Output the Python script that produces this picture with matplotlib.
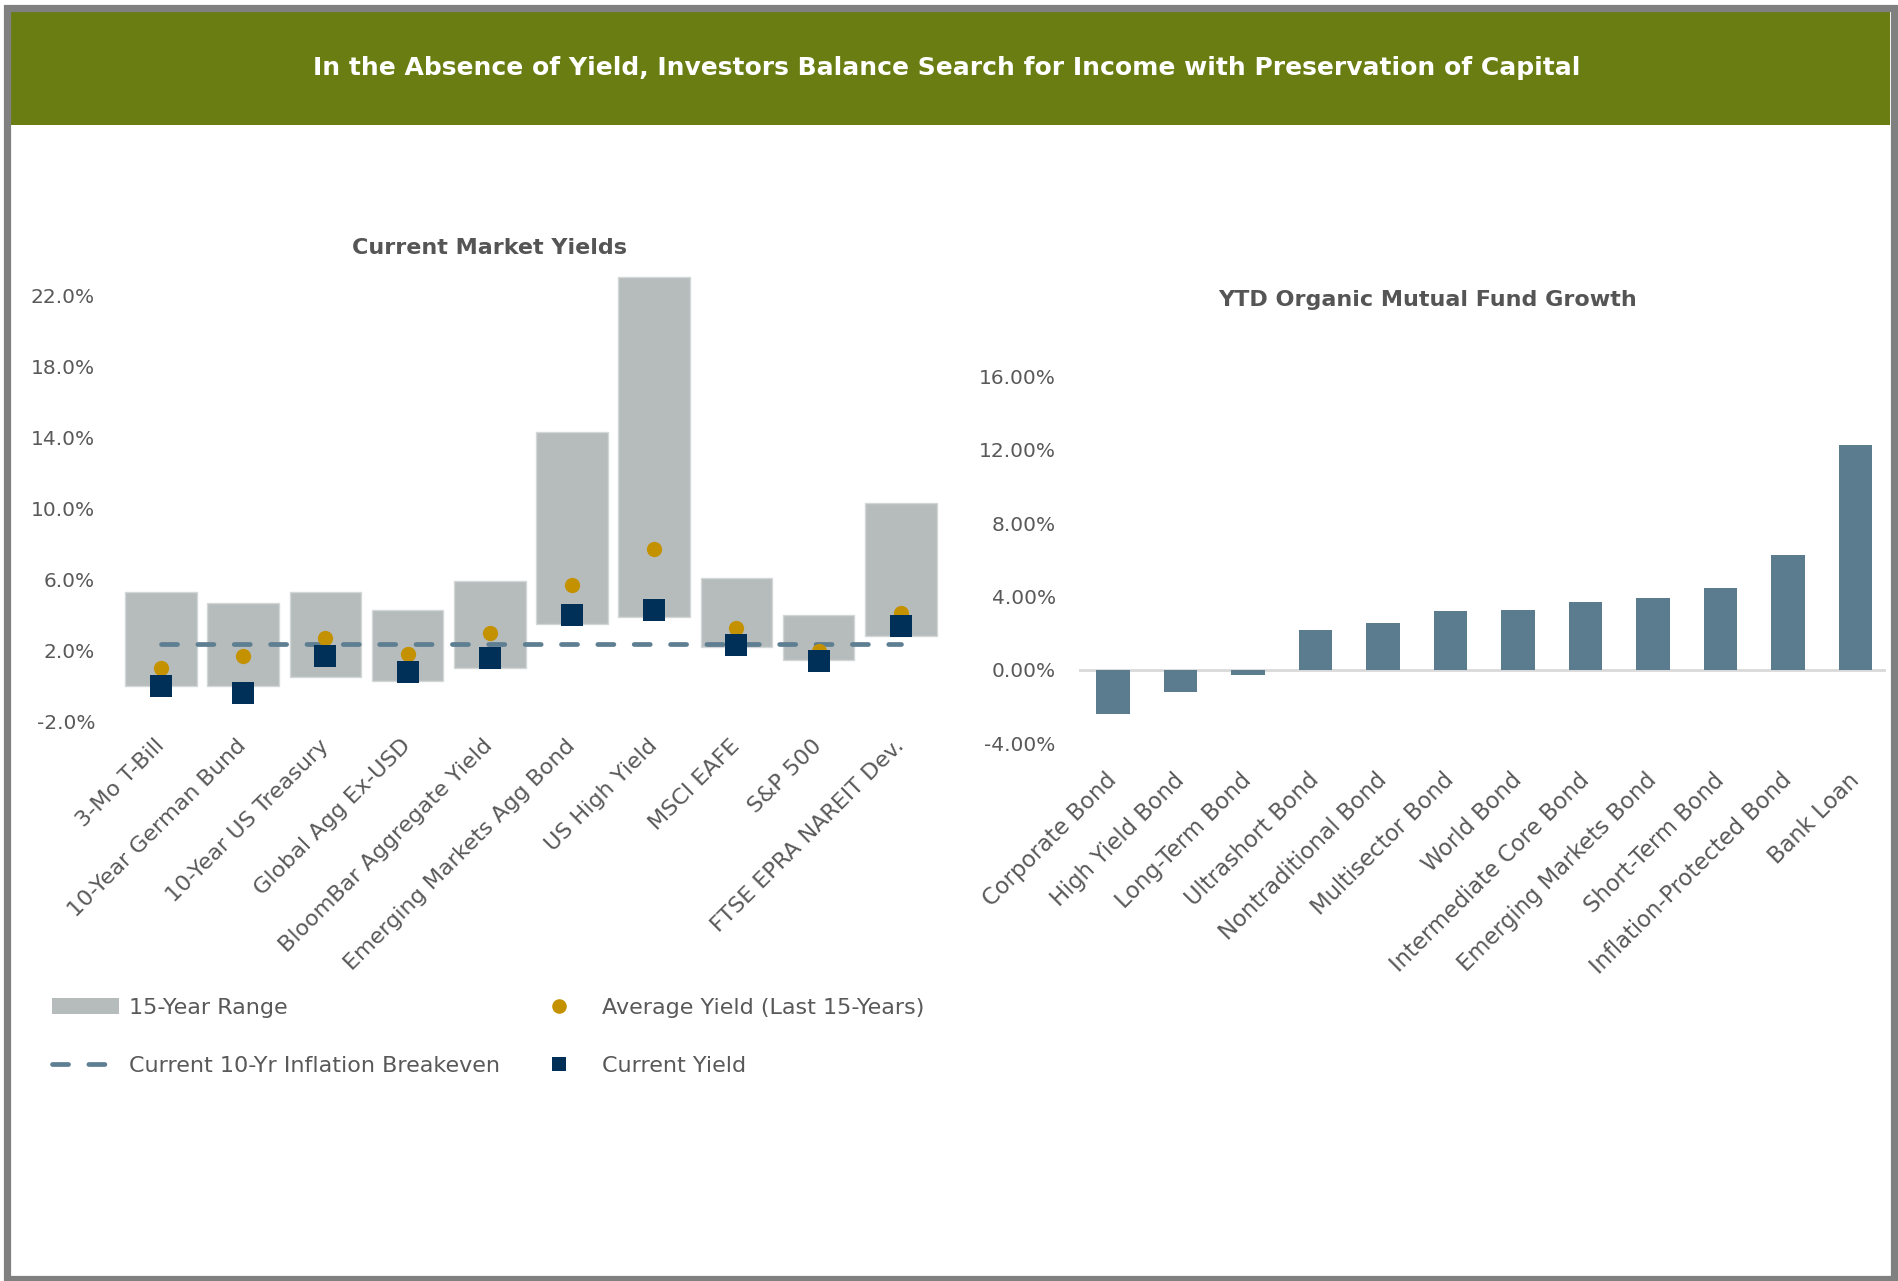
import matplotlib
matplotlib.use("Agg")
import matplotlib.pyplot as plt
from matplotlib.patches import Rectangle, Patch
from matplotlib.lines import Line2D
from matplotlib.ticker import FuncFormatter
import numpy as np

# ---- data -------------------------------------------------------------
yield_categories = ['3-Mo T-Bill', '10-Year German Bund', '10-Year US Treasury',
                    'Global Agg Ex-USD', 'BloomBar Aggregate Yield',
                    'Emerging Markets Agg Bond', 'US High Yield', 'MSCI EAFE',
                    'S&P 500', 'FTSE EPRA NAREIT Dev.']
range_low = [0.0, 0.0, 0.5, 0.3, 1.0, 3.5, 3.9, 2.2, 1.5, 2.8]
range_high = [5.3, 4.7, 5.3, 4.3, 5.9, 14.3, 23.0, 6.1, 4.0, 10.3]
avg_yield = [1.0, 1.7, 2.7, 1.8, 3.0, 5.7, 7.7, 3.3, 2.0, 4.1]
current_yield = [0.0, -0.4, 1.7, 0.8, 1.6, 4.0, 4.3, 2.3, 1.4, 3.4]
inflation_breakeven = 2.4
yield_ticks = [-2, 2, 6, 10, 14, 18, 22]

fund_categories = ['Corporate Bond', 'High Yield Bond', 'Long-Term Bond',
                   'Ultrashort Bond', 'Nontraditional Bond', 'Multisector Bond',
                   'World Bond', 'Intermediate Core Bond', 'Emerging Markets Bond',
                   'Short-Term Bond', 'Inflation-Protected Bond', 'Bank Loan']
fund_growth = [-2.41, -1.18, -0.27, 2.16, 2.58, 3.21, 3.28, 3.70, 3.90, 4.46,
               6.28, 12.27]
growth_ticks = [-4, 0, 4, 8, 12, 16]

# ---- styling ----------------------------------------------------------
GREEN = '#6a7d12'
BORDER = '#808080'
TEXT = '#595959'
TITLE = '#555555'
RANGE_GRAY = '#b6bcbb'
GOLD = '#c49200'
NAVY = '#003057'
SLATE = '#5e7e91'
FUND_BAR = '#5b7b8e'

plt.rcParams['font.family'] = ['DejaVu Sans']

W, H = 1898, 1281
fig = plt.figure(figsize=(W / 100, H / 100), dpi=100)
fig.patch.set_facecolor('white')


def fx(px):
    return px / W


def fy(py):
    return 1 - py / H


# frame and header band
fig.add_artist(Rectangle((fx(10), fy(125)), fx(1880), (125 - 11) / H,
                         transform=fig.transFigure, facecolor=GREEN,
                         edgecolor='none', zorder=0))
fig.add_artist(Rectangle((fx(6.5), fy(1279)), fx(1887.5), (1279 - 7.5) / H,
                         transform=fig.transFigure, facecolor='none',
                         edgecolor=BORDER, linewidth=5.2, zorder=5))
fig.text(fx(947), fy(68),
         'In the Absence of Yield, Investors Balance Search for Income with Preservation of Capital',
         color='white', fontsize=18, fontweight='bold', ha='center', va='center')

# ---- left panel: current market yields --------------------------------
x0, dx = 161.0, 82.2
xl_lo, xl_hi = -0.65, 9.55
ax1_left = x0 + xl_lo * dx
ax1_right = x0 + xl_hi * dx
y_zero_px, px_per_pct = 650.7 + 2 * 17.78, 17.78
yl_lo, yl_hi = -2, 24
ax1_bot = y_zero_px - yl_lo * px_per_pct
ax1_top = y_zero_px - yl_hi * px_per_pct
ax1 = fig.add_axes([fx(ax1_left), fy(ax1_bot), (ax1_right - ax1_left) / W,
                    (ax1_bot - ax1_top) / H])

xs = np.arange(len(yield_categories))
heights = np.array(range_high) - np.array(range_low)
ax1.bar(xs, heights, bottom=range_low, width=0.87, color=RANGE_GRAY,
        edgecolor='#d3d7d7', linewidth=1.0, zorder=1)
ax1.plot([xs[0], xs[-1]], [inflation_breakeven] * 2, color=SLATE, linewidth=3.4,
         linestyle=(0, (3.4, 4.3)), dash_capstyle='round', zorder=2)
ax1.plot(xs, avg_yield, linestyle='none', marker='o', markersize=11,
         markerfacecolor=GOLD, markeredgewidth=0, zorder=3)
ax1.plot(xs, current_yield, linestyle='none', marker='s', markersize=15.6,
         markerfacecolor=NAVY, markeredgewidth=0, zorder=4)

ax1.set_xlim(xl_lo, xl_hi)
ax1.set_ylim(yl_lo, yl_hi)
ax1.set_yticks(yield_ticks)
ax1.yaxis.set_major_formatter(FuncFormatter(lambda v, p: f'{v:.1f}%'))
ax1.set_xticks(xs)
ax1.set_xticklabels(yield_categories, rotation=45, ha='right',
                    rotation_mode='anchor', va='center')
ax1.tick_params(axis='y', length=0, pad=9, labelsize=14.5, labelcolor=TEXT)
ax1.tick_params(axis='x', length=0, pad=15, labelsize=16, labelcolor=TEXT)
for s in ax1.spines.values():
    s.set_visible(False)
ax1.patch.set_alpha(0)

fig.text(fx(490), fy(248), 'Current Market Yields', color=TITLE,
         fontsize=16, fontweight='bold', ha='center', va='center')

legend_handles = [
    Patch(facecolor=RANGE_GRAY, edgecolor='none', label='15-Year Range'),
    Line2D([], [], color=SLATE, linewidth=3.4, linestyle=(0, (3.4, 4.3)),
           dash_capstyle='round', label='Current 10-Yr Inflation Breakeven'),
    Line2D([], [], linestyle='none', marker='o', markersize=10.5,
           markerfacecolor=GOLD, markeredgewidth=0,
           label='Average Yield (Last 15-Years)'),
    Line2D([], [], linestyle='none', marker='s', markersize=10.5,
           markerfacecolor=NAVY, markeredgewidth=0, label='Current Yield'),
]
fig.legend(handles=legend_handles, ncol=2, loc='upper left',
           bbox_to_anchor=(fx(52), fy(998)), bbox_transform=fig.transFigure,
           frameon=False, fontsize=16, labelcolor=TEXT, borderpad=0,
           borderaxespad=0, handlelength=3.0, handletextpad=0.45,
           columnspacing=1.17, labelspacing=1.7)

# ---- right panel: YTD organic mutual fund growth -----------------------
g0, gdx = 1113.0, 67.5
xr_lo, xr_hi = -0.5, 11.45
ax2_left = g0 + xr_lo * gdx
ax2_right = g0 + xr_hi * gdx
g_zero_px, g_px_per_pct = 670.0, 18.37
yr_lo, yr_hi = -4, 18
ax2_bot = g_zero_px - yr_lo * g_px_per_pct
ax2_top = g_zero_px - yr_hi * g_px_per_pct
ax2 = fig.add_axes([fx(ax2_left), fy(ax2_bot), (ax2_right - ax2_left) / W,
                    (ax2_bot - ax2_top) / H])

gx = np.arange(len(fund_categories))
ax2.bar(gx, fund_growth, width=0.49, color=FUND_BAR, edgecolor='none', zorder=2)
ax2.axhline(0, color='#d9d9d9', linewidth=2.0, zorder=1)
ax2.set_xlim(xr_lo, xr_hi)
ax2.set_ylim(yr_lo, yr_hi)
ax2.set_yticks(growth_ticks)
ax2.yaxis.set_major_formatter(FuncFormatter(lambda v, p: f'{v:.2f}%'))
ax2.set_xticks(gx)
ax2.set_xticklabels(fund_categories, rotation=45, ha='right',
                    rotation_mode='anchor', va='center')
ax2.tick_params(axis='y', length=0, pad=17, labelsize=14.5, labelcolor=TEXT)
ax2.tick_params(axis='x', length=0, pad=24, labelsize=16.3, labelcolor=TEXT)
for s in ax2.spines.values():
    s.set_visible(False)
ax2.patch.set_alpha(0)

fig.text(fx(1428), fy(300), 'YTD Organic Mutual Fund Growth', color=TITLE,
         fontsize=16, fontweight='bold', ha='center', va='center')

fig.savefig('out.png', dpi=100, facecolor='white')
